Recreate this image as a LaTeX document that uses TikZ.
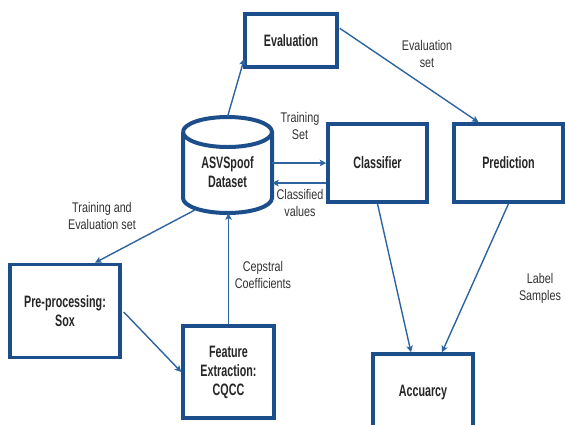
\documentclass[tikz,border=0pt]{standalone}
\usepackage{fontspec}
\setmainfont{Liberation Sans}[FakeStretch=0.77]
\newfontfamily\boxfont{Liberation Sans}[FakeStretch=0.65]
\usetikzlibrary{arrows.meta,calc}
\definecolor{boxblue}{RGB}{28,78,140}
\definecolor{arrblue}{RGB}{45,100,160}
\definecolor{txtgray}{RGB}{50,50,50}
\tikzset{
  x=1pt,y=-1pt,
  every node/.style={font=\fontsize{14}{17}\selectfont, text=txtgray},
  blk/.style={draw=boxblue, line width=3.5pt, fill=white, align=center, font=\boxfont\fontsize{16.5}{19}\selectfont\bfseries, text=black!85, inner sep=0pt},
  conn/.style={draw=arrblue, line width=1.4pt, -{Stealth[length=6.5pt,width=6.5pt,inset=1.5pt]}},
  lbl/.style={align=center, inner sep=0pt}
}
\begin{document}
\begin{tikzpicture}
\useasboundingbox (0,0) rectangle (565,424);
\clip (0,0) rectangle (565,424);
% boxes
\node[blk, minimum width=92, minimum height=53] (eval) at (291,40.5) {Evaluation};
\node[blk, minimum width=99, minimum height=78] (cls) at (377.5,163) {Classifier};
\node[blk, minimum width=109, minimum height=78] (prd) at (508.5,163) {Prediction};
\node[blk, minimum width=110, minimum height=93] (pre) at (65,311) {Pre-processing:\\Sox};
\node[blk, minimum width=91, minimum height=92] (fe) at (228.5,372) {Feature\\Extraction:\\CQCC};
\node[blk, minimum width=100, minimum height=78] (acc) at (423,393) {Accuarcy};
% cylinder
\node[minimum width=89, minimum height=96, inner sep=0pt] (ds) at (227.5,165) {};
\draw[boxblue, line width=4pt, fill=white]
  (183,132) -- (183,198) arc[start angle=180, end angle=360, x radius=44.5, y radius=-15]
  -- (272,132) arc[start angle=0, end angle=180, x radius=44.5, y radius=-15];
\draw[boxblue, line width=4pt] (183,132) arc[start angle=180, end angle=360, x radius=44.5, y radius=-15];
\node[lbl, font=\boxfont\fontsize{16.5}{19}\selectfont\bfseries, text=black!85] (dst) at (227.5,172) {ASVSpoof\\Dataset};
% connectors
\draw[conn] (ds.north) -- ($(eval.south west)+(1,-10)$);
\draw[conn] ($(eval.north east)+(1,16)$) -- ($(prd.north)+(-30,0)$);
\draw[conn] (ds.east |- cls.west) -- (cls.west);
\draw[conn] ($(cls.west)+(0,20)$) -- ($(ds.east)+(0,18)$);
\draw[conn] (cls.south) -- ($(acc.north)+(-12,0)$);
\draw[conn] (prd.south) -- ($(acc.north)+(19,0)$);
\draw[conn] ($(ds.south)+(-33,-3)$) -- ($(pre.north)+(30,0)$);
\draw[conn] ($(pre.east)+(2,1)$) -- (fe.west);
\draw[conn] (fe.north) -- (fe.north |- ds.south);
% labels
\node[lbl] (l1) at (427,54) {Evaluation\\set};
\node[lbl] (l2) at (300,126) {Training\\Set};
\node[lbl] (l3) at (300,203) {Classified\\values};
\node[lbl] (l4) at (102,216) {Training and\\Evaluation set};
\node[lbl] (l5) at (263,275) {Cepstral\\Coefficients};
\node[lbl] (l6) at (540,288) {Label\\Samples};
\end{tikzpicture}
\end{document}
